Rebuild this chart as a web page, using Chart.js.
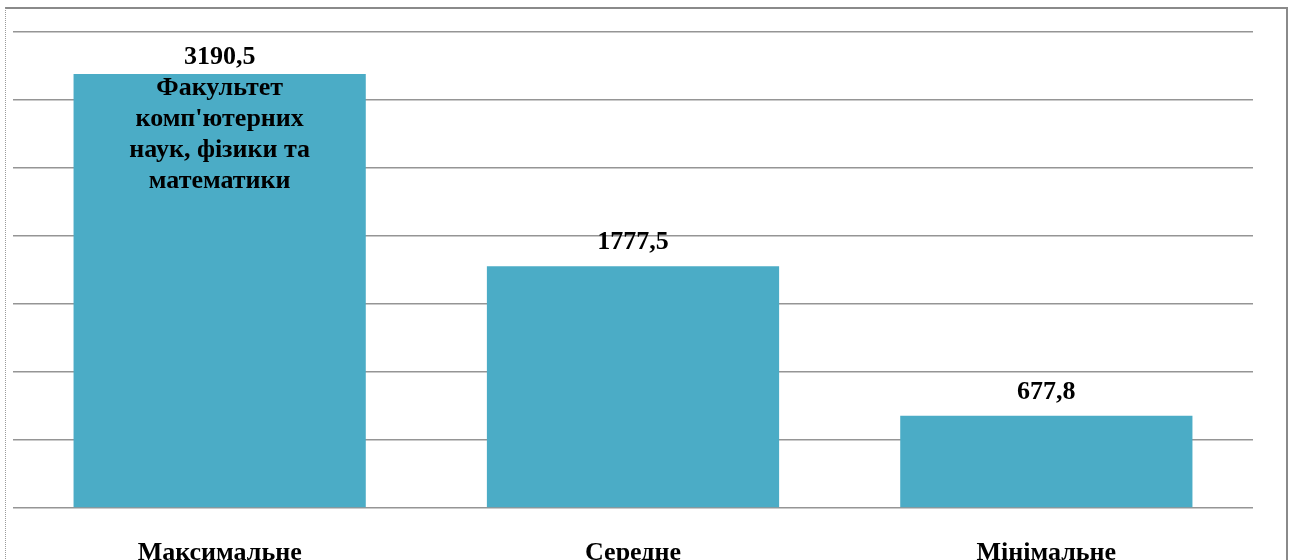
<!DOCTYPE html>
<html>
<head>
<meta charset="utf-8">
<script src="https://cdn.jsdelivr.net/npm/chart.js@4"></script>
<style>
  body { margin: 0; background: #fff; }
  #frame {
    position: absolute; left: 5px; top: 7px; width: 1280px; height: 560px;
    border-top: 2px solid #8a8a8a; border-right: 2px solid #8a8a8a;
    border-left: 1px dotted #9a9a9a;
  }
  #chart { position: absolute; left: 0; top: 0; }
</style>
</head>
<body>
<div id="frame"></div>
<canvas id="chart" width="1289" height="560"></canvas>
<script>
const categories = ["Максимальне", "Середне", "Мінімальне"];
const values = [3190.5, 1777.5, 677.8];
const valueLabels = ["3190,5", "1777,5", "677,8"];
const innerNotes = [["Факультет", "комп'ютерних", "наук, фізики та", "математики"], [], []];

const yMax = 3500;
const yStep = 500;
const labelFont = "bold 26px 'Liberation Serif', 'Times New Roman', serif";

// value labels above bars + faculty note inside the first bar
const barLabels = {
  id: "barLabels",
  afterDatasetsDraw(chart) {
    const ctx = chart.ctx;
    const meta = chart.getDatasetMeta(0);
    ctx.save();
    ctx.font = labelFont;
    ctx.fillStyle = "#000";
    ctx.textAlign = "center";
    meta.data.forEach((bar, i) => {
      const note = innerNotes[i];
      ctx.textBaseline = "alphabetic";
      ctx.fillText(valueLabels[i], bar.x, bar.y - (note.length ? 10 : 17));
      ctx.textBaseline = "middle";
      note.forEach((line, j) => {
        ctx.fillText(line, bar.x, bar.y + 14 + j * 31);
      });
    });
    ctx.restore();
  }
};

new Chart(document.getElementById("chart"), {
  type: "bar",
  data: {
    labels: categories,
    datasets: [{
      data: values,
      backgroundColor: "#4bacc6",
      borderWidth: 0,
      categoryPercentage: 0.707,
      barPercentage: 1
    }]
  },
  options: {
    responsive: false,
    animation: false,
    layout: { padding: { left: 13, right: 36, top: 32, bottom: 0 } },
    plugins: { legend: { display: false }, tooltip: { enabled: false } },
    scales: {
      x: {
        grid: { display: false },
        border: { display: false },
        ticks: {
          color: "#000",
          padding: 22,
          font: { family: "'Liberation Serif', 'Times New Roman', serif", size: 26, weight: "bold" }
        },
        afterFit: (scale) => { scale.height = 52; }
      },
      y: {
        min: 0,
        max: yMax,
        ticks: { display: false, stepSize: yStep },
        grid: { color: "#959595", lineWidth: 1.5, drawTicks: false },
        border: { display: false },
        afterFit: (scale) => { scale.width = 0; }
      }
    }
  },
  plugins: [barLabels]
});
</script>
</body>
</html>
